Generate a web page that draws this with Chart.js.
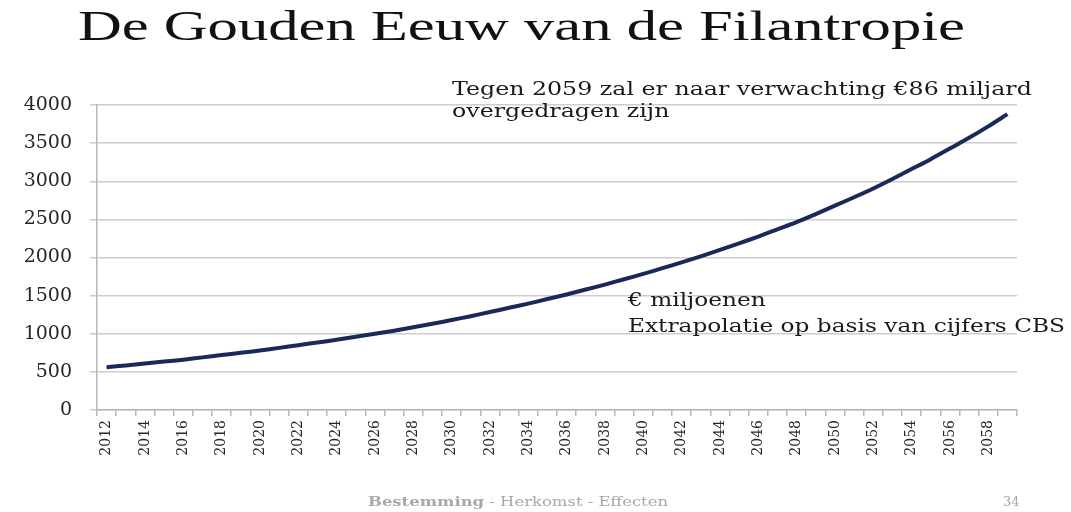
<!DOCTYPE html>
<html>
<head>
<meta charset="utf-8">
<script src="https://cdn.jsdelivr.net/npm/chart.js@4"></script>
<style>
  html, body { margin: 0; padding: 0; background: #fff; }
  #wrap { position: relative; width: 1071px; height: 512px; overflow: hidden; }
  #chart { position: absolute; left: 0; top: 0; }
  .txt { position: absolute; white-space: nowrap; transform-origin: left top; }
  #title { left: 78px; top: 5px; font: 42px/42px "Liberation Serif", serif; color: #111; }
  .note { font-family: "DejaVu Serif", serif; font-size: 19px; color: #1a1a1a; }
  #footer { left: 368px; top: 494px; font: 13px "DejaVu Serif", serif; color: #a8a8a8; }
  #page { left: 1003px; top: 494px; font: 13px "DejaVu Serif", serif; color: #a8a8a8; }
</style>
</head>
<body>
<div id="wrap">
  <canvas id="chart" width="1071" height="512"></canvas>
  <div class="txt" id="title">De Gouden Eeuw van de Filantropie</div>
  <div class="txt note" id="note1" style="left:452px; top:77px; line-height:22px;">Tegen 2059 zal er naar verwachting €86 miljard<br>overgedragen zijn</div>
  <div class="txt note" id="note2" style="left:628px; top:286px; line-height:26px;">€ miljoenen<br>Extrapolatie op basis van cijfers CBS</div>
  <div class="txt" id="footer"><b>Bestemming</b> - Herkomst - Effecten</div>
  <div class="txt" id="page">34</div>
</div>
<script>
// jaren 2012 t/m 2059
const jaren = ['2012','2013','2014','2015','2016','2017','2018','2019','2020','2021',
  '2022','2023','2024','2025','2026','2027','2028','2029','2030','2031',
  '2032','2033','2034','2035','2036','2037','2038','2039','2040','2041',
  '2042','2043','2044','2045','2046','2047','2048','2049','2050','2051',
  '2052','2053','2054','2055','2056','2057','2058','2059'];

const bedragen = [560, 585, 610, 635, 660, 690, 720, 750, 780, 815,
  850, 885, 920, 960, 1000, 1040, 1085, 1130, 1180, 1230,
  1285, 1340, 1395, 1455, 1515, 1580, 1645, 1715, 1785, 1860,
  1935, 2015, 2100, 2185, 2275, 2370, 2465, 2570, 2680, 2790,
  2905, 3030, 3160, 3290, 3430, 3570, 3720, 3880];

const yTicks = [0, 500, 1000, 1500, 2000, 2500, 3000, 3500, 4000];

const ctx = document.getElementById('chart');
new Chart(ctx, {
  type: 'line',
  data: {
    labels: jaren,
    datasets: [{
      data: bedragen,
      borderColor: '#18295a',
      borderWidth: 4,
      pointRadius: 0,
      tension: 0.3,
      fill: false
    }]
  },
  options: {
    responsive: false,
    animation: false,
    devicePixelRatio: 1,
    layout: { padding: { left: 0, right: 54, top: 105, bottom: 0 } },
    plugins: { legend: { display: false }, tooltip: { enabled: false } },
    scales: {
      x: {
        offset: true,
        grid: { offset: true, drawOnChartArea: false, color: '#b8b8b8', lineWidth: 1.5, tickLength: 6 },
        border: { color: '#b8b8b8', width: 1.5 },
        ticks: {
          autoSkip: false,
          minRotation: 90,
          maxRotation: 90,
          padding: 4,
          color: '#262626',
          font: { family: 'DejaVu Serif', size: 14 },
          callback: (v, i) => (i % 2 === 0 ? jaren[i] : '')
        },
        afterFit: (s) => { s.height = 102; }
      },
      y: {
        min: 0,
        max: 4000,
        afterBuildTicks: (s) => { s.ticks = yTicks.map(v => ({ value: v })); },
        grid: { color: '#cdcdcd', lineWidth: 1.5, tickLength: 7 },
        border: { color: '#b8b8b8', width: 1.5 },
        ticks: {
          padding: 18,
          color: '#262626',
          font: { family: 'DejaVu Serif', size: 19 },
          callback: (v) => String(v)
        },
        afterFit: (s) => { s.width = 97; }
      }
    }
  }
});

// teksten breder trekken zoals op de (uitgerekte) dia
const rek = (id, breed) => {
  const el = document.getElementById(id);
  el.style.transform = 'scaleX(' + (breed / el.getBoundingClientRect().width).toFixed(3) + ')';
};
rek('title', 887);
rek('note1', 580);
rek('note2', 437);
rek('footer', 300);
</script>
</body>
</html>
